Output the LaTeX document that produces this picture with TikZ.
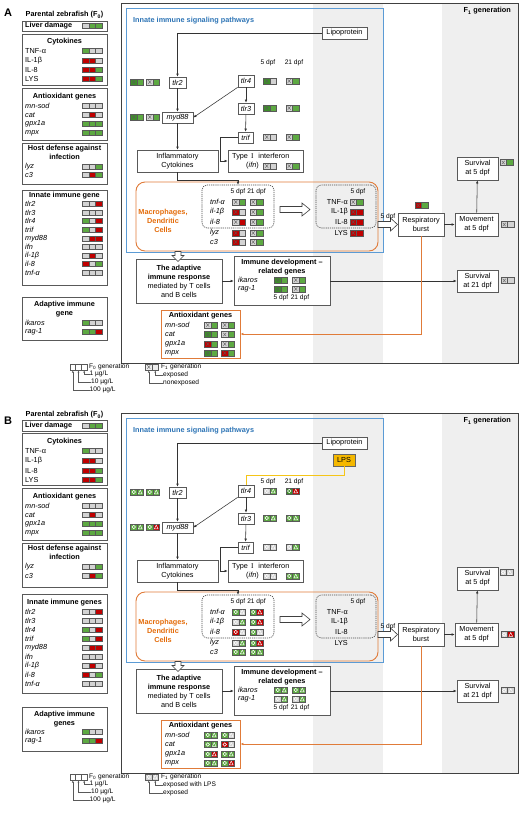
\documentclass[tikz,border=0pt]{standalone}
\usepackage{fontspec}
\setmainfont{Liberation Sans}
\newfontfamily\serf{Liberation Serif}
\usetikzlibrary{arrows.meta}
\definecolor{gr}{HTML}{5DA942}
\definecolor{dg}{HTML}{3E8E2A}
\definecolor{rd}{HTML}{C00000}
\definecolor{gy}{HTML}{D3D3D3}
\definecolor{bandc}{HTML}{EFEFEF}
\definecolor{bluec}{HTML}{5B9BD5}
\definecolor{bluet}{HTML}{2E75B6}
\definecolor{orc}{HTML}{E07B39}
\definecolor{ort}{HTML}{E46C0A}
\definecolor{boxc}{HTML}{595959}
\definecolor{lpsc}{HTML}{F5B800}
\definecolor{yl}{HTML}{F5C518}
\newcommand{\fs}{\fontsize{7.3}{9}\selectfont}
\newcommand{\fss}{\fontsize{6.6}{8}\selectfont}
\tikzset{
 con/.style={draw=black!80, line width=0.55pt, -{Latex[length=3pt,width=2.6pt]}},
 orl/.style={draw=orc, line width=0.7pt, -{Latex[length=3pt,width=2.6pt]}},
 legl/.style={draw=boxc, line width=0.4pt, -{Latex[length=2pt,width=1.8pt]}},
 bx/.style={draw=boxc, line width=0.7pt, fill=white, inner sep=0pt, align=center, font=\fs},
 gb/.style={bx, font={\fs\itshape}},
 lab/.style={anchor=west, inner sep=0pt, font=\fs},
 ilab/.style={anchor=west, inner sep=0pt, font={\fs\itshape}},
 hd/.style={font={\bfseries\fs}, inner sep=0pt, align=center},
 lbox/.style={draw=boxc, line width=0.8pt, fill=white, inner sep=0pt, minimum width=85},
 dbox/.style={draw=black!70, line width=0.6pt, dash pattern=on 1.2pt off 0.9pt, rounded corners=5pt, inner sep=0pt},
 hol/.style={draw=black!75, fill=white, line width=0.6pt},
}
\newcommand{\indc}[4]{\begin{scope}[shift={(0,#1)}]
\fill[#2] (82,-2.6) rectangle (88.7,2.6);
\fill[#3] (88.7,-2.6) rectangle (95.3,2.6);
\fill[#4] (95.3,-2.6) rectangle (102,2.6);
\draw[draw=boxc, line width=0.4pt] (82,-2.6) rectangle (102,2.6) (88.7,-2.6) -- (88.7,2.6) (95.3,-2.6) -- (95.3,2.6);
\end{scope}}
\newcommand{\lrow}[6]{\node[lab] (#1) at (25,#2) {#3}; \indc{#2}{#4}{#5}{#6}}
\newcommand{\icA}[4]{\begin{scope}[shift={(#1,#2)}]
\fill[#3] (-6.5,-3) rectangle (0,3);
\fill[#4] (0,-3) rectangle (6.5,3);
\draw[draw=boxc, line width=0.4pt] (-6.5,-3) rectangle (6.5,3) (0,-3) -- (0,3);
\draw[draw=black!65, line width=0.35pt] (-4.7,-1.7) -- (-1.8,1.7) (-4.7,1.7) -- (-1.8,-1.7);
\end{scope}}
\newcommand{\icB}[4]{\begin{scope}[shift={(#1,#2)}]
\fill[#3] (-6.5,-3) rectangle (0,3);
\fill[#4] (0,-3) rectangle (6.5,3);
\draw[draw=boxc, line width=0.4pt] (-6.5,-3) rectangle (6.5,3) (0,-3) -- (0,3);
\draw[draw=white, line width=0.45pt] (-3.25,0) circle (1.7);
\draw[draw=white, line width=0.45pt] (1.4,1.8) -- (3.25,-1.9) -- (5.1,1.8) -- cycle;
\end{scope}}
\newcommand{\mpanel}[1]{%
\fill[bandc] (313,3) rectangle (383,363);
\fill[bandc] (442,3) rectangle (518,363);
\node[draw=black!75, line width=1pt, minimum width=397.5, minimum height=360, inner sep=0pt] (fr#1) at (319.75,183) {};
\node[font={\bfseries\fs}, anchor=north east, inner sep=0pt] (fg#1) at (511,7.5) {F\textsubscript{1} generation};
\node[draw=bluec, line width=0.9pt, minimum width=257, minimum height=244, inner sep=0pt] (blue#1) at (254.5,130) {};
\node[font={\bfseries\fs}, text=bluet, anchor=west, inner sep=0pt] (bt#1) at (133,21) {Innate immune signaling pathways};
\node[bx, minimum width=45, minimum height=12] (lipo#1) at (344.5,33) {Lipoprotein};
\node[gb, minimum width=17, minimum height=11] (tlrb#1) at (177.5,82.5) {tlr2};
\node[gb, minimum width=16, minimum height=12] (tlrd#1) at (246,81) {tlr4};
\node[gb, minimum width=16, minimum height=11] (tlrc#1) at (246,108.5) {tlr3};
\node[gb, minimum width=15, minimum height=11] (trif#1) at (245.5,137.5) {trif};
\node[gb, minimum width=31, minimum height=11] (myd#1) at (177.5,117.5) {myd88};
\node[bx, minimum width=81, minimum height=22] (infl#1) at (177.5,161) {Inflammatory\\Cytokines};
\node[bx, minimum width=75, minimum height=22] (ifn#1) at (265.5,161) {};
\node[lab] (ifnt#1) at (232,156.5) {Type\hspace{3pt}{\serf I}\hspace{3pt} interferon};
\node[lab, anchor=east] (ifnl#1) at (259,166) {(\textit{ifn})};
\draw[con] (lipo#1.west) -| (tlrb#1.north);
\draw[con] (tlrb#1) -- (myd#1);
\draw[con] (tlrd#1.south west) -- (myd#1.east);
\draw[con] (tlrd#1) -- (tlrc#1);
\draw[con] (tlrc#1) -- (trif#1);
\draw[con] (trif#1.west) -- ++(-17,0) |- (ifn#1.west);
\draw[con] (myd#1) -- (infl#1);
\node[draw=orc, line width=0.9pt, rounded corners=9pt, minimum width=242, minimum height=69, inner sep=0pt] (mac#1) at (257,216.5) {};
\node[font={\bfseries\fs}, text=ort, align=center, inner sep=0pt] (mact#1) at (163,220.5) {Macrophages,\\Dendritic\\Cells};
\node[dbox, minimum width=72, minimum height=43] (da#1) at (238,206.5) {};
\coordinate (k#1) at (238,180.5);
\draw[con] (infl#1.south) |- (k#1) -- (da#1.north);
\node[font=\fss, inner sep=0pt] (ma#1) at (238,192) {5 dpf};
\node[font=\fss, inner sep=0pt] (mb#1) at (256.5,192) {21 dpf};
\node[ilab] (gtnf#1) at (210,202) {tnf-α};
\node[ilab] (gila#1) at (210,212) {il-1β};
\node[ilab] (gilb#1) at (210,222) {il-8};
\node[ilab] (glyz#1) at (210,233) {lyz};
\node[ilab] (gcth#1) at (210,242) {c3};
\draw[hol] (280,206.5) -- (302,206.5) -- (302,203) -- (310,209.5) -- (302,216) -- (302,212.5) -- (280,212.5) -- cycle;
\node[dbox, minimum width=60, minimum height=43] (db#1) at (346,206.5) {};
\node[font=\fss, inner sep=0pt] (dbh#1) at (358,191.5) {5 dpf};
\node[lab, anchor=east] (ltnf#1) at (348,202) {TNF-α};
\node[lab, anchor=east] (lila#1) at (348,212) {IL-1β};
\node[lab, anchor=east] (lilb#1) at (348,222) {IL-8};
\node[lab, anchor=east] (llys#1) at (348,233) {LYS};
\draw[hol] (378,221.5) -- (390.5,221.5) -- (390.5,218) -- (397.5,224.5) -- (390.5,231) -- (390.5,227.5) -- (378,227.5) -- cycle;
\node[font=\fss, inner sep=0pt] (lf#1) at (388,217) {5 dpf};
\node[bx, minimum width=46, minimum height=23] (resp#1) at (421,224.5) {Respiratory\\burst};
\node[bx, minimum width=43, minimum height=23] (move#1) at (476.5,224.5) {Movement\\at 5 dpf};
\node[bx, minimum width=41, minimum height=23] (sfive#1) at (477.5,168.5) {Survival\\at 5 dpf};
\node[bx, minimum width=41, minimum height=22] (stw#1) at (477.5,281) {Survival\\at 21 dpf};
\draw[con] (resp#1) -- (move#1);
\draw[con] (move#1) -- (sfive#1);
\node[bx, minimum width=86, minimum height=44] (adapt#1) at (179,281) {\textbf{The adaptive}\\\textbf{immune response}\\mediated by T cells\\and B cells};
\draw[hol] (175,251.5) -- (181,251.5) -- (181,255.5) -- (184,255.5) -- (178,261.5) -- (172,255.5) -- (175,255.5) -- cycle;
\node[bx, minimum width=96, minimum height=49] (imd#1) at (282,280.5) {};
\node[hd] (imdt#1) at (282,267) {Immune development –\\related genes};
\node[ilab] (ika#1) at (238,280) {ikaros};
\node[ilab] (rag#1) at (238,289) {rag-1};
\node[font=\fss, inner sep=0pt] (ia#1) at (281,298) {5 dpf};
\node[font=\fss, inner sep=0pt] (ib#1) at (300,298) {21 dpf};
\draw[con] (adapt#1.east) -- (adapt#1.east -| imd#1.west);
\draw[con] (stw#1.west -| imd#1.east) -- (stw#1.west);
\node[draw=orc, line width=0.9pt, fill=white, minimum width=79, minimum height=48, inner sep=0pt] (ant#1) at (200.5,334) {};
\node[hd] (antt#1) at (200.5,316) {Antioxidant genes};
\node[ilab] (amn#1) at (165,325) {mn-sod};
\node[ilab] (acat#1) at (165,334.5) {cat};
\node[ilab] (agpx#1) at (165,344) {gpx1a};
\node[ilab] (ampx#1) at (165,353) {mpx};
\draw[orl] (resp#1.south) |- (ant#1.east);
}
\newcommand{\legF}[1]{%
\draw[draw=boxc, line width=0.5pt, fill=white] (70,364.5) rectangle (87,370) (75.7,364.5) -- (75.7,370) (81.3,364.5) -- (81.3,370);
\node[lab, font=\fss] (fzt#1) at (89,367) {F\textsubscript{0} generation};
\node[lab, font=\fss] (ca#1) at (89.5,374) {1 µg/L};
\node[lab, font=\fss] (cb#1) at (91,382) {10 µg/L};
\node[lab, font=\fss] (cc#1) at (89.5,390) {100 µg/L};
\draw[legl] (ca#1.west) -| (84.2,370.5);
\draw[legl] (cb#1.west) -| (78.5,370.5);
\draw[legl] (cc#1.west) -| (72.8,370.5);
}
\newcommand{\legG}[3]{%
\node[lab, font=\fss] (fot#1) at (161,367) {F\textsubscript{1} generation};
\node[lab, font=\fss] (ea#1) at (163,375) {#2};
\node[lab, font=\fss] (eb#1) at (163,383) {#3};
\draw[legl] (ea#1.west) -| (155.25,370.5);
\draw[legl] (eb#1.west) -| (148.75,370.5);
}
\begin{document}
\begin{tikzpicture}[x=1pt,y=-1pt]
\useasboundingbox (0,0) rectangle (520,815);
\fill[white] (0,0) rectangle (520,815);
% ================= PANEL A =================
\mpanel{A}
\node[font=\fss, inner sep=0pt] (haA) at (268,62.5) {5 dpf};
\node[font=\fss, inner sep=0pt] (hbA) at (294,62.5) {21 dpf};
\icA{137}{82}{dg}{gr} \icA{153}{82}{gy}{gr}
\icA{137}{117}{dg}{gr} \icA{153}{117}{gy}{gr}
\icA{270}{81}{dg}{gy} \icA{292.5}{81}{gy}{gr}
\icA{270}{108}{dg}{gr} \icA{292.5}{108}{gy}{gr}
\icA{270}{137}{gy}{gy} \icA{292.5}{137}{gy}{gr}
\icA{270}{166}{gy}{gy} \icA{292.5}{166}{gy}{gr}
\icA{239}{202}{gy}{gr} \icA{256.5}{202}{gy}{gr}
\icA{239}{212}{rd}{gy} \icA{256.5}{212}{gy}{gr}
\icA{239}{222}{gy}{rd} \icA{256.5}{222}{gy}{gr}
\icA{239}{233}{rd}{gy} \icA{256.5}{233}{gy}{gr}
\icA{239}{242}{rd}{gy} \icA{256.5}{242}{gy}{gr}
\icA{356.5}{202}{gy}{gr}
\icA{356.5}{212}{rd}{rd}
\icA{356.5}{222}{rd}{rd}
\icA{356.5}{233}{rd}{rd}
\icA{421.5}{205.5}{rd}{gr}
\icA{507.5}{224.5}{gy}{gy}
\icA{506.5}{162.5}{gy}{gr}
\icA{507.5}{280.5}{gy}{gy}
\icA{281}{280}{dg}{gr} \icA{299}{280}{gy}{gr}
\icA{281}{289}{dg}{gr} \icA{299}{289}{gy}{gr}
\icA{211}{325}{gy}{gr} \icA{228}{325}{gy}{gr}
\icA{211}{334.5}{dg}{gr} \icA{228}{334.5}{gy}{gr}
\icA{211}{344}{rd}{gr} \icA{228}{344}{gy}{gr}
\icA{211}{353}{dg}{gr} \icA{228}{353}{rd}{gr}
\legF{A}
\icA{152}{367}{gy!40}{gy!40}
\legG{A}{exposed}{nonexposed}
% left column A
\node[font={\bfseries\fontsize{11}{12}\selectfont}, inner sep=0pt] (labA) at (8,13) {A};
\node[hd] (parA) at (64.5,15) {Parental zebrafish (F\textsubscript{0})};
\node[lbox, minimum height=10] (livA) at (64.5,26) {};
\node[lab, font={\bfseries\fs}] (livtA) at (25,26) {Liver damage};
\indc{26}{gy}{gr}{gr}
\node[lbox, minimum height=51] (cytA) at (64.5,59.5) {};
\node[hd] (cyttA) at (64.5,41.5) {Cytokines};
\lrow{tnfA}{51}{TNF-α}{gr}{gy}{gy}
\lrow{ilaA}{60.5}{IL-1β}{rd}{rd}{gy}
\lrow{ilbA}{70}{IL-8}{rd}{rd}{gr}
\lrow{lysA}{79}{LYS}{rd}{rd}{gr}
\node[lbox, minimum height=52] (antxA) at (64.5,114) {};
\node[hd] (antxtA) at (64.5,97) {Antioxidant genes};
\lrow{mnA}{106}{\textit{mn-sod}}{gy}{gy}{gy}
\lrow{catA}{115}{\textit{cat}}{gy}{rd}{gy}
\lrow{gpxA}{124}{\textit{gpx1a}}{gr}{gr}{gr}
\lrow{mpxA}{133}{\textit{mpx}}{gr}{gr}{gr}
\node[lbox, minimum height=41] (hostA) at (64.5,163.5) {};
\node[hd] (hosttA) at (64.5,152.5) {Host defense against\\infection};
\lrow{lyzA}{166.5}{\textit{lyz}}{gy}{gy}{gr}
\lrow{cthA}{175}{\textit{c3}}{gy}{rd}{gr}
\node[lbox, minimum height=95] (innA) at (64.5,237.5) {};
\node[hd] (inntA) at (64.5,196) {Innate immune gene};
\lrow{qaA}{204}{\textit{tlr2}}{gy}{gy}{rd}
\lrow{qbA}{212.5}{\textit{tlr3}}{gy}{gy}{gy}
\lrow{qcA}{221}{\textit{tlr4}}{gr}{gy}{rd}
\lrow{qdA}{229.5}{\textit{trif}}{gr}{gy}{rd}
\lrow{qeA}{238.5}{\textit{myd88}}{gy}{rd}{rd}
\lrow{qfA}{247}{\textit{ifn}}{gy}{gy}{gy}
\lrow{qgA}{255.5}{\textit{il-1β}}{gy}{rd}{gy}
\lrow{qhA}{264}{\textit{il-8}}{rd}{gy}{gr}
\lrow{qiA}{273}{\textit{tnf-α}}{gy}{gy}{gy}
\node[lbox, minimum height=43] (adgA) at (64.5,318.5) {};
\node[hd] (adgtA) at (64.5,309) {Adaptive immune\\gene};
\lrow{ikA}{323}{\textit{ikaros}}{gr}{gy}{gy}
\lrow{rgA}{332}{\textit{rag-1}}{gr}{gr}{rd}
% ================= PANEL B =================
\begin{scope}[shift={(0,410)}]
\mpanel{B}
\node[draw=black!60, line width=0.6pt, fill=lpsc, minimum width=22, minimum height=12, inner sep=0pt, font=\fs] (lpsB) at (344,50) {LPS};
\coordinate (yB) at (246,65);
\draw[draw=yl, line width=1pt] (lpsB.south) |- (yB) -- (tlrdB.north);
\node[font=\fss, inner sep=0pt] (haB) at (268,72) {5 dpf};
\node[font=\fss, inner sep=0pt] (hbB) at (294,72) {21 dpf};
\icB{137}{82}{gr}{gr} \icB{153}{82}{gr}{gr}
\icB{137}{117}{gr}{gr} \icB{153}{117}{gr}{rd}
\icB{270}{81}{gy}{gr} \icB{292.5}{81}{dg}{rd}
\icB{270}{108}{gr}{gr} \icB{292.5}{108}{gr}{gr}
\icB{270}{137}{gy}{gy} \icB{292.5}{137}{gy}{gr}
\icB{270}{166}{gy}{gy} \icB{292.5}{166}{gr}{gr}
\icB{239}{202}{gr}{gy} \icB{256.5}{202}{gr}{rd}
\icB{239}{212}{gy}{gr} \icB{256.5}{212}{gr}{rd}
\icB{239}{222}{rd}{gy} \icB{256.5}{222}{gr}{gy}
\icB{239}{233}{gy}{gr} \icB{256.5}{233}{gr}{rd}
\icB{239}{242}{gr}{gr} \icB{256.5}{242}{gr}{gr}
\icB{507.5}{224.5}{gy}{rd}
\icB{506.5}{162.5}{gy}{gy}
\icB{507.5}{280.5}{gy}{gy}
\icB{281}{280}{gr}{gr} \icB{299}{280}{gr}{gr}
\icB{281}{289}{gy}{gr} \icB{299}{289}{gy}{gr}
\icB{211}{325}{gr}{gr} \icB{228}{325}{gr}{gy}
\icB{211}{334.5}{gr}{gr} \icB{228}{334.5}{rd}{gy}
\icB{211}{344}{gr}{rd} \icB{228}{344}{gr}{gr}
\icB{211}{353}{gr}{gr} \icB{228}{353}{gr}{rd}
\legF{B}
\icB{152}{367}{gy}{gy}
\legG{B}{exposed with LPS}{exposed}
\end{scope}
% left column B
\node[font={\bfseries\fontsize{11}{12}\selectfont}, inner sep=0pt] (labB) at (8,421) {B};
\node[hd] (parB) at (64.5,415) {Parental zebrafish (F\textsubscript{0})};
\node[lbox, minimum height=11] (livB) at (64.5,425.5) {};
\node[lab, font={\bfseries\fs}] (livtB) at (25,425.5) {Liver damage};
\indc{425.5}{gy}{gr}{gr}
\node[lbox, minimum height=52] (cytB) at (64.5,459) {};
\node[hd] (cyttB) at (64.5,442) {Cytokines};
\lrow{tnfB}{451}{TNF-α}{gr}{gy}{gy}
\lrow{ilaB}{461}{IL-1β}{rd}{rd}{gy}
\lrow{ilbB}{471}{IL-8}{rd}{rd}{gr}
\lrow{lysB}{479.5}{LYS}{rd}{rd}{gr}
\node[lbox, minimum height=52] (antxB) at (64.5,514) {};
\node[hd] (antxtB) at (64.5,497) {Antioxidant genes};
\lrow{mnB}{506}{\textit{mn-sod}}{gy}{gy}{gy}
\lrow{catB}{515}{\textit{cat}}{gy}{rd}{gy}
\lrow{gpxB}{524}{\textit{gpx1a}}{gr}{gr}{gr}
\lrow{mpxB}{533}{\textit{mpx}}{gr}{gr}{gr}
\node[lbox, minimum height=44] (hostB) at (64.5,565) {};
\node[hd] (hosttB) at (64.5,552.5) {Host defense against\\infection};
\lrow{lyzB}{567}{\textit{lyz}}{gy}{gy}{gr}
\lrow{cthB}{575.5}{\textit{c3}}{gy}{rd}{gr}
\node[lbox, minimum height=99] (innB) at (64.5,643.5) {};
\node[hd] (inntB) at (64.5,603) {Innate immune genes};
\lrow{qaB}{612}{\textit{tlr2}}{gy}{gy}{rd}
\lrow{qbB}{621}{\textit{tlr3}}{gy}{gy}{gy}
\lrow{qcB}{630}{\textit{tlr4}}{gr}{gy}{rd}
\lrow{qdB}{639}{\textit{trif}}{gr}{gy}{rd}
\lrow{qeB}{648}{\textit{myd88}}{gy}{rd}{rd}
\lrow{qfB}{657}{\textit{ifn}}{gy}{gy}{gy}
\lrow{qgB}{666}{\textit{il-1β}}{gy}{rd}{gy}
\lrow{qhB}{675}{\textit{il-8}}{rd}{gy}{gr}
\lrow{qiB}{684}{\textit{tnf-α}}{gy}{gy}{gy}
\node[lbox, minimum height=44] (adgB) at (64.5,729) {};
\node[hd] (adgtB) at (64.5,719) {Adaptive immune\\genes};
\lrow{ikB}{732}{\textit{ikaros}}{gr}{gy}{gy}
\lrow{rgB}{741}{\textit{rag-1}}{gr}{gr}{rd}
\end{tikzpicture}
\end{document}
